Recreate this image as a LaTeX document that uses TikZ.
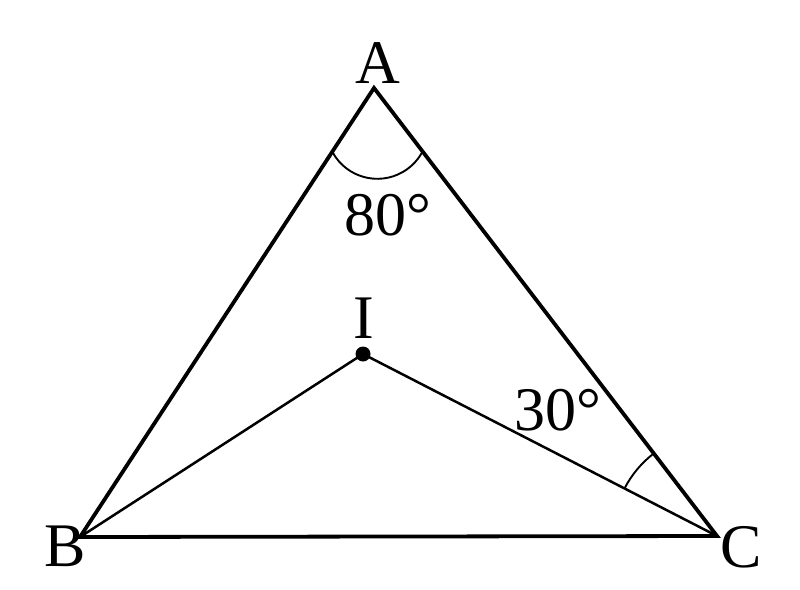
\documentclass[tikz,border=0pt]{standalone}
\usepackage{fontspec}
\setmainfont{Liberation Serif}
\begin{document}
\begin{tikzpicture}[x=1pt,y=-1pt,
  side/.style={line width=3.8pt},
  inner/.style={line width=2.5pt},
  anglearc/.style={line width=1.9pt},
  lbl/.style={inner sep=0pt,font=\fontsize{62}{62}\selectfont}]
\useasboundingbox (0,0) rectangle (800,589);
\coordinate (A) at (374,88);
\coordinate (B) at (80,537);
\coordinate (C) at (717,536);
\coordinate (I) at (363,354);
\draw[side,line join=miter] (A) -- (B) -- (C) -- cycle;
\draw[inner] (B) -- (I) -- (C);
\fill (I) circle (7.5);
% angle arcs
\draw[anglearc] (333,153) arc[start angle=150.4, end angle=29.6, radius=51];
\draw[anglearc] (C) ++(-152.8:104) arc[start angle=-152.8, end angle=-127.5, radius=104];
% labels
\node[lbl,anchor=base] (lA) at (378,83) {A};
\node[lbl,anchor=base west] (lB) at (44,566) {B};
\node[lbl,anchor=base west] (lC) at (720,567) {C};
\node[lbl,anchor=base] (lI) at (364,338) {I};
\node[lbl,anchor=base west] (l80) at (344,235) {80°};
\node[lbl,anchor=base west] (l30) at (514,430) {30°};
\end{tikzpicture}
\end{document}
